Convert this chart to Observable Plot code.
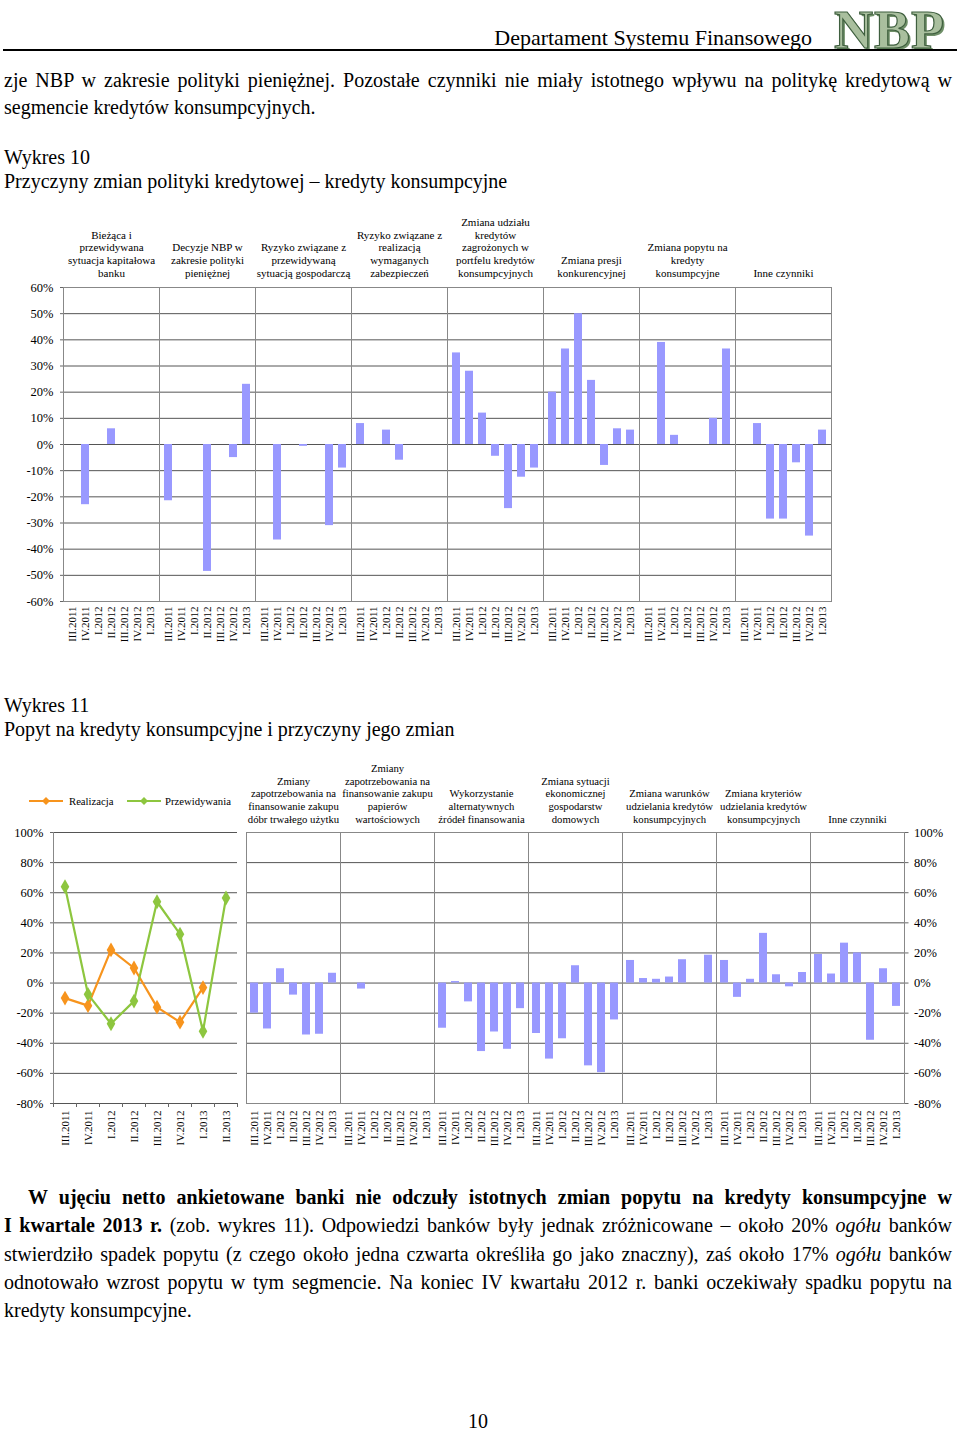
<!DOCTYPE html>
<html><head><meta charset="utf-8">
<script src="https://cdn.jsdelivr.net/npm/d3@7"></script>
<script src="https://cdn.jsdelivr.net/npm/@observablehq/plot@0.6"></script>
<style>
body{margin:0;background:#fff;}
#page{position:relative;width:960px;height:1432px;overflow:hidden;font-family:"Liberation Serif","Times New Roman",serif;color:#000;background:#fff;}
.abs{position:absolute;}
.ln{position:absolute;left:4px;width:948px;font-size:20px;line-height:28px;white-space:nowrap;text-align:justify;text-align-last:justify;}
.nl{text-align-last:left;}
.ttl{position:absolute;left:4px;font-size:20px;line-height:24px;white-space:nowrap;}
#legend{position:absolute;top:794px;left:28px;font-size:10.7px;line-height:14px;white-space:nowrap;}
#legend span{position:absolute;top:0;}
#legend svg{position:absolute;top:2px;}
</style></head>
<body><div id="page">
<div class="abs" style="right:148px;top:25px;font-size:22px;line-height:26px;white-space:nowrap;">Departament Systemu Finansowego</div>
<div class="abs" style="left:834px;top:0px;font-size:54px;line-height:60px;font-weight:bold;color:#a9bf9e;-webkit-text-stroke:1.2px #3f5f3f;text-shadow:2px 2px 0 #6f8f68;letter-spacing:1px;white-space:nowrap;">NBP</div>
<div class="abs" style="left:3px;top:49px;width:954px;height:2px;background:#000;"></div>

<div class="ln" style="top:66px">zje NBP w zakresie polityki pieniężnej. Pozostałe czynniki nie miały istotnego wpływu na politykę kredytową w</div>
<div class="ln nl" style="top:93px">segmencie kredytów konsumpcyjnych.</div>

<div class="ttl" style="top:145px">Wykres 10</div>
<div class="ttl" style="top:169px">Przyczyny zmian polityki kredytowej – kredyty konsumpcyjne</div>
<div id="chart10" class="abs" style="left:0;top:210px"></div>

<div class="ttl" style="top:693px">Wykres 11</div>
<div class="ttl" style="top:717px">Popyt na kredyty konsumpcyjne i przyczyny jego zmian</div>
<div id="legend">
  <svg width="36" height="10" style="left:0"><line x1="1" y1="5" x2="35" y2="5" stroke="#f7941d" stroke-width="2"/><path d="M18 1 L22 5 L18 9 L14 5 Z" fill="#f7941d"/></svg>
  <span style="left:41px">Realizacja</span>
  <svg width="36" height="10" style="left:98px"><line x1="1" y1="5" x2="35" y2="5" stroke="#8dc63f" stroke-width="2"/><path d="M18 1 L22 5 L18 9 L14 5 Z" fill="#8dc63f"/></svg>
  <span style="left:137px">Przewidywania</span>
</div>
<div id="chart11a" class="abs" style="left:0;top:760px"></div>
<div id="chart11b" class="abs" style="left:238px;top:760px"></div>

<div class="ln" style="top:1183px;left:28px;width:924px;font-weight:bold;">W ujęciu netto ankietowane banki nie odczuły istotnych zmian popytu na kredyty konsumpcyjne w</div>
<div class="ln" style="top:1211px"><b>I kwartale 2013 r.</b> (zob. wykres 11). Odpowiedzi banków były jednak zróżnicowane – około 20% <i>ogółu</i> banków</div>
<div class="ln" style="top:1240px">stwierdziło spadek popytu (z czego około jedna czwarta określiła go jako znaczny), zaś około 17% <i>ogółu</i> banków</div>
<div class="ln" style="top:1268px">odnotowało wzrost popytu w tym segmencie. Na koniec IV kwartału 2012 r. banki oczekiwały spadku popytu na</div>
<div class="ln nl" style="top:1296px">kredyty konsumpcyjne.</div>
<div class="abs" style="left:0;width:956px;top:1407px;font-size:20px;line-height:28px;text-align:center;">10</div>
</div>
<script>
// ---------- Wykres 10 ----------
const quarters = ["III.2011","IV.2011","I.2012","II.2012","III.2012","IV.2012","I.2013"];
const factors10 = [
  "Bieżąca i\nprzewidywana\nsytuacja kapitałowa\nbanku",
  "Decyzje NBP w\nzakresie polityki\npieniężnej",
  "Ryzyko związane z\nprzewidywaną\nsytuacją gospodarczą",
  "Ryzyko związane z\nrealizacją\nwymaganych\nzabezpieczeń",
  "Zmiana udziału\nkredytów\nzagrożonych w\nportfelu kredytów\nkonsumpcyjnych",
  "Zmiana presji\nkonkurencyjnej",
  "Zmiana popytu na\nkredyty\nkonsumpcyjne",
  "Inne czynniki"
];
const kapital           = [null, -23, null, 6, null, null, null];
const decyzjeNBP        = [-21.5, null, null, -48.5, null, -5, 23];
const ryzykoGosp        = [null, -36.5, null, -0.7, null, -31, -9];
const ryzykoZabezp      = [8, null, 5.5, -6, null, null, null];
const udzialZagrozonych = [35, 28, 12, -4.5, -24.5, -12.5, -9];
const presja            = [20, 36.5, 50, 24.5, -8, 6, 5.5];
const popyt             = [null, 39, 3.5, null, null, 10, 36.5];
const inne10            = [null, 8, -28.5, -28.5, -7, -35, 5.5];
const ticks10 = [-60,-50,-40,-30,-20,-10,0,10,20,30,40,50,60];

// ---------- Wykres 11 ----------
const quarters11 = ["III.2011","IV.2011","I.2012","II.2012","III.2012","IV.2012","I.2013","II.2013"];
const realizacja    = [-10, -15, 22, 10, -16, -26, -3, null];
const przewidywania = [64, -7.5, -27, -12, 54, 32.5, -32, 56.5];
const factors11 = [
  "Zmiany\nzapotrzebowania na\nfinansowanie zakupu\ndóbr trwałego użytku",
  "Zmiany\nzapotrzebowania na\nfinansowanie zakupu\npapierów\nwartościowych",
  "Wykorzystanie\nalternatywnych\nźródeł finansowania",
  "Zmiana sytuacji\nekonomicznej\ngospodarstw\ndomowych",
  "Zmiana warunków\nudzielania kredytów\nkonsumpcyjnych",
  "Zmiana kryteriów\nudzielania kredytów\nkonsumpcyjnych",
  "Inne czynniki"
];
const dobraTrwale   = [-20, -30.5, 9.5, -8, -34.5, -34, 6.5];
const papiery       = [null, -4, null, null, null, null, null];
const alternatywne  = [-30, 1, -12.5, -45.5, -32.5, -44, -17];
const sytuacjaGD    = [-33.5, -50.5, -37, 11.5, -55, -59.5, -24.5];
const warunki       = [15, 3, 2.5, 4, 15.5, null, 18.5];
const kryteria      = [15, -9.5, 2.5, 33, 5.5, -2.5, 7];
const inne11        = [19, 6, 26.5, 20, -38, 9.5, -15.5];
const ticks11 = [-80,-60,-40,-20,0,20,40,60,80,100];

const barColor = "#9999ff", orange = "#f7941d", green = "#8dc63f";
const font = "Liberation Serif, Times New Roman, serif";
const pct = d => d + "%";

function rowsOf(factors, series) {
  return factors.flatMap((f, i) => quarters.map((q, j) => ({factor: f, quarter: q, value: series[i][j]})))
    .filter(d => d.value != null);
}

// Chart 10
const rows10 = rowsOf(factors10, [kapital, decyzjeNBP, ryzykoGosp, ryzykoZabezp, udzialZagrozonych, presja, popyt, inne10]);
const chart10 = Plot.plot({
  width: 960, height: 440,
  marginTop: 77, marginBottom: 49, marginLeft: 60, marginRight: 126,
  style: {fontFamily: font, fontSize: "11px", color: "#000", background: "none", overflow: "visible"},
  fx: {domain: factors10, paddingInner: 0, paddingOuter: 0},
  x: {domain: quarters, paddingInner: 0.4, paddingOuter: 0.2},
  y: {domain: [-60, 60]},
  marks: [
    Plot.ruleY(ticks10, {stroke: "#555", strokeWidth: 1}),
    Plot.frame({stroke: "#888"}),
    Plot.barY(rows10, {fx: "factor", x: "quarter", y: "value", fill: barColor}),
    Plot.axisY(ticks10, {tickFormat: pct, tickSize: 3, tickPadding: 7, fontSize: 12.5, stroke: "#666", label: null}),
    Plot.axisX({tickRotate: -90, tickSize: 0, tickPadding: 5, fontSize: 11, label: null}),
    Plot.axisFx({anchor: "top", tickSize: 0, tickPadding: 11, fontSize: 11, lineHeight: 1.15, label: null})
  ]
});
document.getElementById("chart10").append(chart10);

// Chart 11 left (lines)
const lineRows = arr => quarters11.map((q, i) => ({quarter: q, value: arr[i]})).filter(d => d.value != null);
const realRows = lineRows(realizacja), przRows = lineRows(przewidywania);
const xi = d => quarters11.indexOf(d.quarter) + 0.5;
const chart11a = Plot.plot({
  width: 242, height: 400,
  marginTop: 72, marginBottom: 57, marginLeft: 53, marginRight: 5,
  style: {fontFamily: font, fontSize: "11px", color: "#000", background: "none", overflow: "visible"},
  x: {domain: [0, quarters11.length]},
  y: {domain: [-80, 100]},
  marks: [
    Plot.ruleY(ticks11, {stroke: "#555", strokeWidth: 1}),
    Plot.ruleX([0], {stroke: "#888"}),
    Plot.line(realRows, {x: xi, y: "value", stroke: orange, strokeWidth: 2.2}),
    Plot.dot(realRows, {x: xi, y: "value", symbol: "diamond", fill: orange, r: 4.5}),
    Plot.line(przRows, {x: xi, y: "value", stroke: green, strokeWidth: 2.2}),
    Plot.dot(przRows, {x: xi, y: "value", symbol: "diamond", fill: green, r: 4.5}),
    Plot.axisY(ticks11, {tickFormat: pct, tickSize: 3, tickPadding: 7, fontSize: 12.5, stroke: "#666", label: null}),
    Plot.axisX(d3.range(0, quarters11.length + 1), {tickFormat: () => "", tickSize: 4, stroke: "#666", label: null}),
    Plot.axisX(quarters11.map((q, i) => i + 0.5), {tickFormat: v => quarters11[Math.floor(v)], tickRotate: -90, tickSize: 0, tickPadding: 7, fontSize: 11, label: null})
  ]
});
document.getElementById("chart11a").append(chart11a);

// Chart 11 right (bars)
const rows11 = rowsOf(factors11, [dobraTrwale, papiery, alternatywne, sytuacjaGD, warunki, kryteria, inne11]);
const chart11b = Plot.plot({
  width: 722, height: 400,
  marginTop: 72, marginBottom: 57, marginLeft: 6, marginRight: 54,
  style: {fontFamily: font, fontSize: "11px", color: "#000", background: "none", overflow: "visible"},
  fx: {domain: factors11, paddingInner: 0, paddingOuter: 0},
  x: {domain: quarters, paddingInner: 0.4, paddingOuter: 0.2},
  y: {domain: [-80, 100]},
  marks: [
    Plot.ruleY(ticks11, {stroke: "#555", strokeWidth: 1}),
    Plot.frame({stroke: "#888"}),
    Plot.barY(rows11, {fx: "factor", x: "quarter", y: "value", fill: barColor}),
    Plot.axisY(ticks11, {anchor: "right", tickFormat: pct, tickSize: 3.5, tickPadding: 6, fontSize: 12.5, stroke: "#666", label: null}),
    Plot.axisX({tickRotate: -90, tickSize: 0, tickPadding: 7, fontSize: 11, label: null}),
    Plot.axisFx({anchor: "top", tickSize: 0, tickPadding: 10, fontSize: 10.7, lineHeight: 1.17, label: null})
  ]
});
document.getElementById("chart11b").append(chart11b);
</script>
</body></html>
